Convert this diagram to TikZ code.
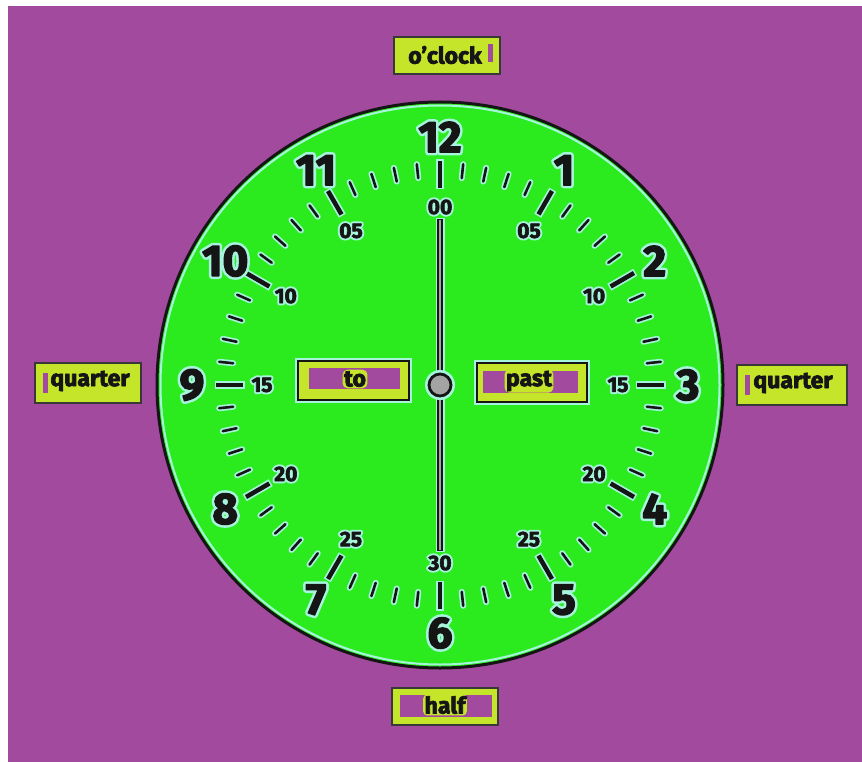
\documentclass[tikz,border=0pt]{standalone}
\usepackage{fontspec}
\setmainfont{Fira Sans}
\definecolor{bgpurple}{HTML}{A24A9E}
\definecolor{clockgreen}{HTML}{2BEB1F}
\definecolor{lime}{HTML}{C5E52B}
\definecolor{halo}{HTML}{A6F4DC}
\definecolor{ink}{HTML}{151515}
\definecolor{handgray}{HTML}{A3A3A3}
% #1 halo stroke width, #2 ink stroke width (emboldening), #3 text
\newcommand\halotxt[3]{\leavevmode\rlap{\special{pdf:literal 2 Tr #1 w 1 j 1 J}\textcolor{halo}{#3}\special{pdf:literal 0 Tr 0.4 w}}\special{pdf:literal 2 Tr #2 w 1 j}#3\special{pdf:literal 0 Tr 0.4 w}}
\newcommand\boldtxt[2]{\leavevmode\special{pdf:literal 2 Tr #1 w 1 j}#2\special{pdf:literal 0 Tr 0.4 w}}
\begin{document}
\begin{tikzpicture}[x=1pt,y=-1pt,
  lbl/.style={font=\fontsize{23}{23}\selectfont\bfseries, text=ink, inner sep=1.5pt},
  tagbox/.style={draw=ink!85, line width=1.8pt, fill=lime, inner sep=0pt},
  purplebar/.style={fill=bgpurple, inner sep=0pt},
  hournum/.style={font=\fontsize{44}{44}\selectfont\bfseries, text=ink, inner sep=0pt},
  minnum/.style={font=\fontsize{21}{21}\selectfont\bfseries, text=ink, inner sep=0pt},
]
\useasboundingbox (0,0) rectangle (862,762);
\fill[white] (0,0) rectangle (862,762);
\fill[bgpurple] (8,6) rectangle (862,762);

% clock face
\coordinate (c) at (440,385);
\fill[clockgreen] (c) circle[radius=283];
\draw[halo, line width=2pt] (c) circle[radius=279.5];
\draw[ink, line width=3pt] (c) circle[radius=283];

\begin{scope}[shift={(440,385)}, y=1pt]
  \foreach \i in {0,...,59}{
    \pgfmathsetmacro\a{90-6*\i}
    \pgfmathtruncatemacro\r{mod(\i,5)}
    \ifnum\r=0
      \draw[halo, line width=8pt] (\a:195.5) -- (\a:225.5);
      \draw[ink, line width=4.5pt] (\a:197) -- (\a:224);
    \else
      \draw[halo, line width=6pt, line cap=round] (\a:208) -- (\a:222);
      \draw[ink, line width=2.6pt, line cap=round] (\a:208) -- (\a:222);
    \fi
  }
  \foreach \h in {1,...,12}{
    \node[hournum] (h\h) at ({90-30*\h}:248) {\halotxt{6.5}{1.4}{\h}};
  }
  \foreach \k/\t in {0/00,1/05,2/10,3/15,4/20,5/25,6/30,7/25,8/20,9/15,10/10,11/05}{
    \node[minnum] (m\k) at ({90-30*\k}:178) {\halotxt{4.5}{0.6}{\t}};
  }
  % hand
  \draw[halo, line width=9pt, shorten <=3pt, shorten >=3pt] (m0.south) -- (m6.north);
  \draw[ink, line width=6pt, shorten <=4pt, shorten >=4pt] (m0.south) -- (m6.north);
  \draw[handgray, line width=2.5pt, shorten <=5pt, shorten >=5pt] (m0.south) -- (m6.north);
  \fill[halo] (0,0) circle[radius=15];
  \node[circle, draw=ink, line width=2.8pt, fill=handgray, minimum size=22pt, inner sep=0pt] (pivot) at (0,0) {};
\end{scope}

% "to" box
\draw[halo, line width=6pt] (298,361) rectangle (409,400);
\node[tagbox, draw=ink, line width=2pt, minimum width=111pt, minimum height=39pt] (tobox) at (353.5,380.5) {};
\node[purplebar, minimum width=91pt, minimum height=21pt] (toin) at (354.5,378.5) {};
\node[lbl, fill=lime, rounded corners=5pt] (to) at (355,379) {\boldtxt{0.7}{to}};

% "past" box
\draw[halo, line width=6pt] (477,363) rectangle (587,402);
\node[tagbox, draw=ink, line width=2pt, minimum width=110pt, minimum height=39pt] (pastbox) at (532,382.5) {};
\node[purplebar, minimum width=95pt, minimum height=22pt] (pastin) at (530.5,382) {};
\node[lbl, fill=lime, rounded corners=5pt] (past) at (529,381) {\boldtxt{0.7}{past}};

% o'clock
\node[tagbox, minimum width=106pt, minimum height=37pt] (oclockbox) at (447,55.5) {};
\node[purplebar, minimum width=5pt, minimum height=18pt] (oclockbar) at (490,53) {};
\node[lbl] (oclock) at (445,55) {\boldtxt{0.7}{o'clock}};

% quarter left
\node[tagbox, minimum width=106pt, minimum height=40pt] (qlbox) at (88,383) {};
\node[purplebar, minimum width=5pt, minimum height=20pt] (qlbar) at (45,383) {};
\node[lbl] (ql) at (90,381) {\boldtxt{0.7}{quarter}};

% quarter right
\node[tagbox, minimum width=110pt, minimum height=40pt] (qrbox) at (792,385) {};
\node[purplebar, minimum width=5pt, minimum height=20pt] (qrbar) at (747,385) {};
\node[lbl] (qr) at (793,383) {\boldtxt{0.7}{quarter}};

% half
\node[tagbox, minimum width=106pt, minimum height=37pt] (halfbox) at (445,706.5) {};
\node[purplebar, minimum width=92pt, minimum height=22pt] (halfin) at (446,706) {};
\node[lbl, fill=lime, rounded corners=4pt] (half) at (445,705) {\boldtxt{0.7}{half}};
\end{tikzpicture}
\end{document}
